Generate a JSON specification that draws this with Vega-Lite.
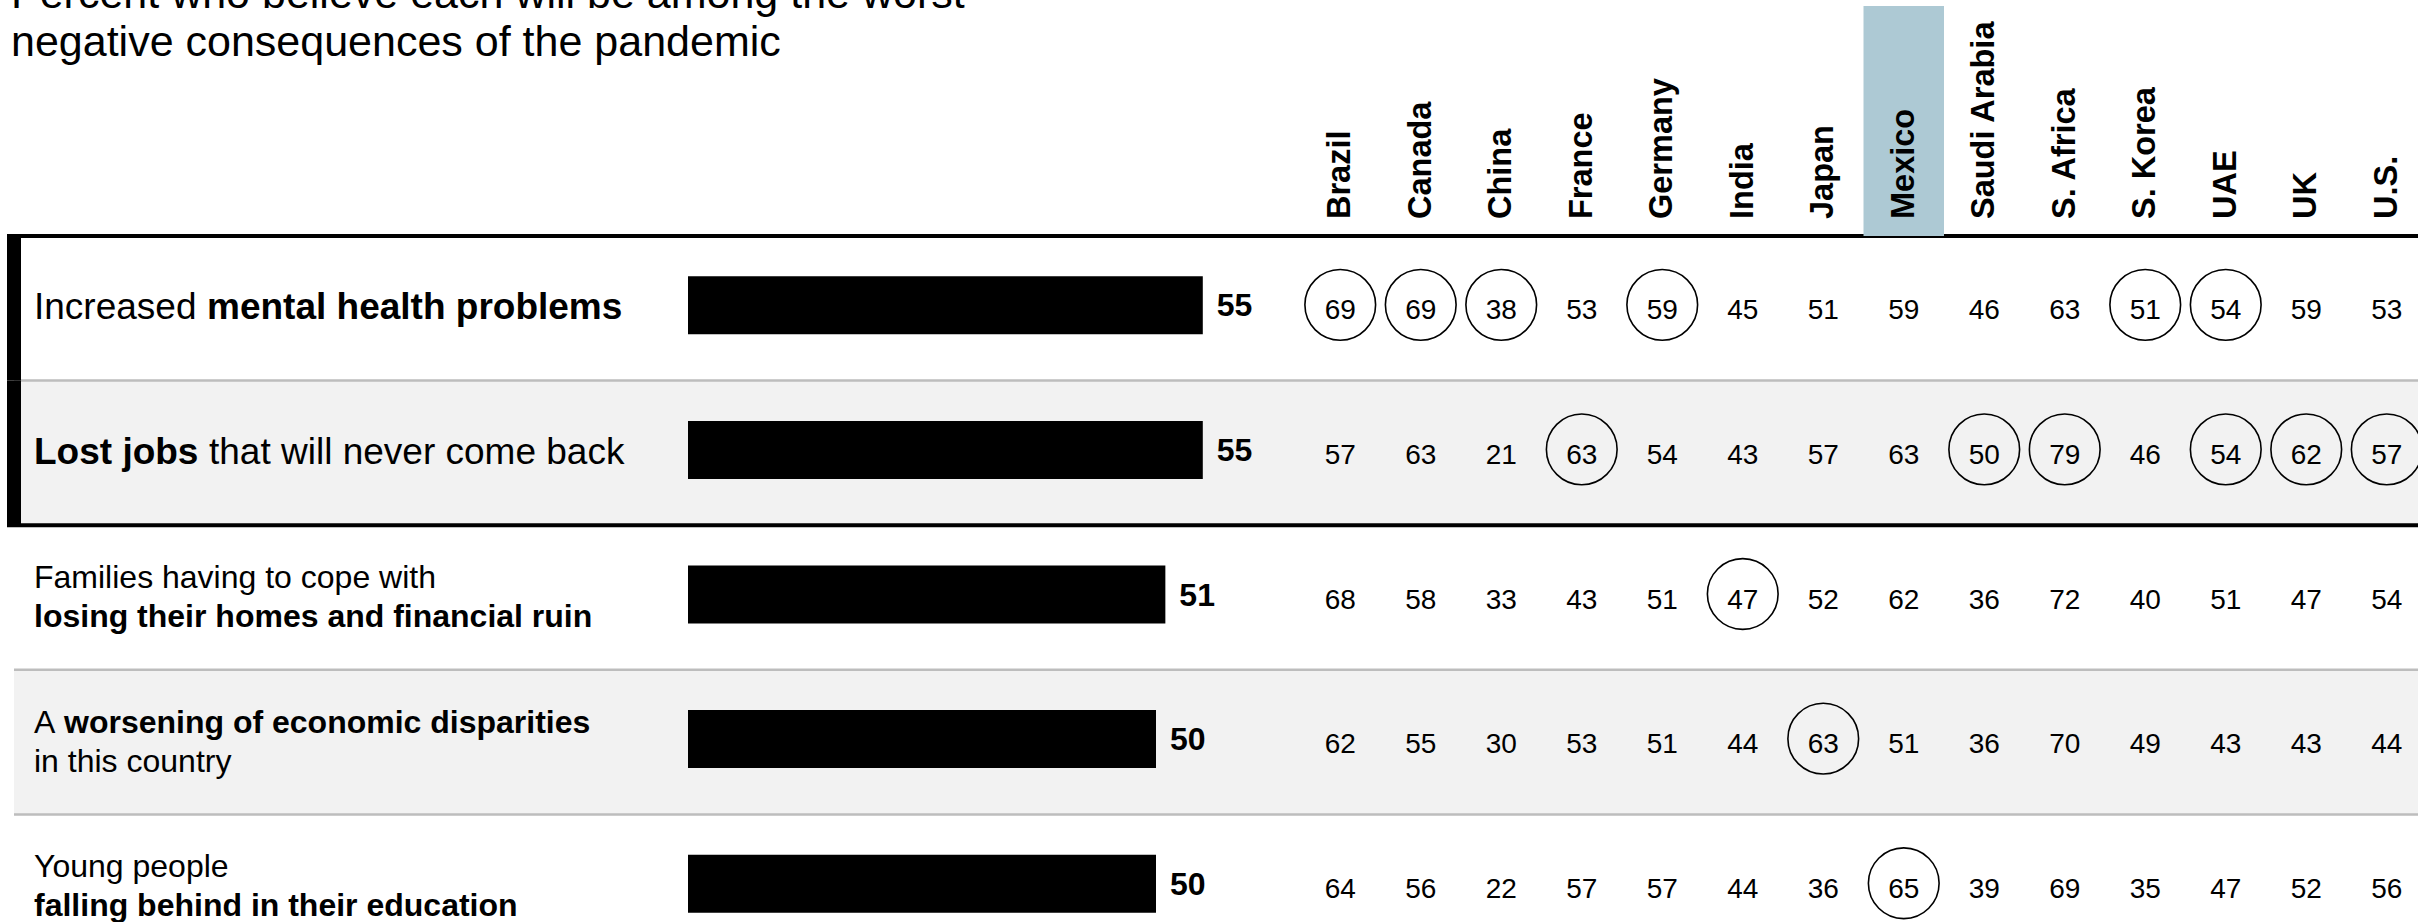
{
  "$schema": "https://vega.github.io/schema/vega-lite/v6.json",
  "width": 2418,
  "height": 922,
  "autosize": {"type": "none"},
  "padding": 0,
  "background": "white",
  "config": {
    "view": {"stroke": null},
    "font": "Liberation Sans",
    "text": {"font": "Liberation Sans", "color": "#000000"}
  },
  "datasets": {
    "topics": [
      {"topic": "mental", "rank": 1, "overall": 55, "featured": true},
      {"topic": "jobs", "rank": 2, "overall": 55, "featured": true},
      {"topic": "homes", "rank": 3, "overall": 51, "featured": false},
      {"topic": "disparities", "rank": 4, "overall": 50, "featured": false},
      {"topic": "education", "rank": 5, "overall": 50, "featured": false}
    ],
    "labels": [
      {"topic": "mental", "line": 0, "seq": 0, "text": "Increased", "emph": false},
      {"topic": "mental", "line": 0, "seq": 1, "text": "mental health problems", "emph": true},
      {"topic": "jobs", "line": 0, "seq": 0, "text": "Lost jobs", "emph": true},
      {"topic": "jobs", "line": 0, "seq": 1, "text": "that will never come back", "emph": false},
      {"topic": "homes", "line": 1, "seq": 0, "text": "Families having to cope with", "emph": false},
      {"topic": "homes", "line": 2, "seq": 0, "text": "losing their homes and financial ruin", "emph": true},
      {"topic": "disparities", "line": 1, "seq": 0, "text": "A", "emph": false},
      {"topic": "disparities", "line": 1, "seq": 1, "text": "worsening of economic disparities", "emph": true},
      {"topic": "disparities", "line": 2, "seq": 0, "text": "in this country", "emph": false},
      {"topic": "education", "line": 1, "seq": 0, "text": "Young people", "emph": false},
      {"topic": "education", "line": 2, "seq": 0, "text": "falling behind in their education", "emph": true}
    ],
    "cells": [
      {"topic": "mental", "country": "Brazil", "value": 69},
      {"topic": "mental", "country": "Canada", "value": 69},
      {"topic": "mental", "country": "China", "value": 38},
      {"topic": "mental", "country": "France", "value": 53},
      {"topic": "mental", "country": "Germany", "value": 59},
      {"topic": "mental", "country": "India", "value": 45},
      {"topic": "mental", "country": "Japan", "value": 51},
      {"topic": "mental", "country": "Mexico", "value": 59},
      {"topic": "mental", "country": "Saudi Arabia", "value": 46},
      {"topic": "mental", "country": "S. Africa", "value": 63},
      {"topic": "mental", "country": "S. Korea", "value": 51},
      {"topic": "mental", "country": "UAE", "value": 54},
      {"topic": "mental", "country": "UK", "value": 59},
      {"topic": "mental", "country": "U.S.", "value": 53},
      {"topic": "jobs", "country": "Brazil", "value": 57},
      {"topic": "jobs", "country": "Canada", "value": 63},
      {"topic": "jobs", "country": "China", "value": 21},
      {"topic": "jobs", "country": "France", "value": 63},
      {"topic": "jobs", "country": "Germany", "value": 54},
      {"topic": "jobs", "country": "India", "value": 43},
      {"topic": "jobs", "country": "Japan", "value": 57},
      {"topic": "jobs", "country": "Mexico", "value": 63},
      {"topic": "jobs", "country": "Saudi Arabia", "value": 50},
      {"topic": "jobs", "country": "S. Africa", "value": 79},
      {"topic": "jobs", "country": "S. Korea", "value": 46},
      {"topic": "jobs", "country": "UAE", "value": 54},
      {"topic": "jobs", "country": "UK", "value": 62},
      {"topic": "jobs", "country": "U.S.", "value": 57},
      {"topic": "homes", "country": "Brazil", "value": 68},
      {"topic": "homes", "country": "Canada", "value": 58},
      {"topic": "homes", "country": "China", "value": 33},
      {"topic": "homes", "country": "France", "value": 43},
      {"topic": "homes", "country": "Germany", "value": 51},
      {"topic": "homes", "country": "India", "value": 47},
      {"topic": "homes", "country": "Japan", "value": 52},
      {"topic": "homes", "country": "Mexico", "value": 62},
      {"topic": "homes", "country": "Saudi Arabia", "value": 36},
      {"topic": "homes", "country": "S. Africa", "value": 72},
      {"topic": "homes", "country": "S. Korea", "value": 40},
      {"topic": "homes", "country": "UAE", "value": 51},
      {"topic": "homes", "country": "UK", "value": 47},
      {"topic": "homes", "country": "U.S.", "value": 54},
      {"topic": "disparities", "country": "Brazil", "value": 62},
      {"topic": "disparities", "country": "Canada", "value": 55},
      {"topic": "disparities", "country": "China", "value": 30},
      {"topic": "disparities", "country": "France", "value": 53},
      {"topic": "disparities", "country": "Germany", "value": 51},
      {"topic": "disparities", "country": "India", "value": 44},
      {"topic": "disparities", "country": "Japan", "value": 63},
      {"topic": "disparities", "country": "Mexico", "value": 51},
      {"topic": "disparities", "country": "Saudi Arabia", "value": 36},
      {"topic": "disparities", "country": "S. Africa", "value": 70},
      {"topic": "disparities", "country": "S. Korea", "value": 49},
      {"topic": "disparities", "country": "UAE", "value": 43},
      {"topic": "disparities", "country": "UK", "value": 43},
      {"topic": "disparities", "country": "U.S.", "value": 44},
      {"topic": "education", "country": "Brazil", "value": 64},
      {"topic": "education", "country": "Canada", "value": 56},
      {"topic": "education", "country": "China", "value": 22},
      {"topic": "education", "country": "France", "value": 57},
      {"topic": "education", "country": "Germany", "value": 57},
      {"topic": "education", "country": "India", "value": 44},
      {"topic": "education", "country": "Japan", "value": 36},
      {"topic": "education", "country": "Mexico", "value": 65},
      {"topic": "education", "country": "Saudi Arabia", "value": 39},
      {"topic": "education", "country": "S. Africa", "value": 69},
      {"topic": "education", "country": "S. Korea", "value": 35},
      {"topic": "education", "country": "UAE", "value": 47},
      {"topic": "education", "country": "UK", "value": 52},
      {"topic": "education", "country": "U.S.", "value": 56}
    ]
  },
  "resolve": {"scale": {"x": "independent"}},
  "layer": [
    {
      "description": "shaded background for every other row",
      "data": {"name": "topics"},
      "transform": [{"filter": "datum.rank % 2 == 0"}],
      "mark": {"type": "rect", "color": "#f2f2f2"},
      "encoding": {
        "y": {"field": "topic", "type": "nominal", "scale": {"type": "band", "domain": ["mental", "jobs", "homes", "disparities", "education"], "range": [236, 959], "paddingInner": 0, "paddingOuter": 0}, "axis": null},
        "x": {"value": 14},
        "x2": {"value": "width"}
      }
    },
    {
      "description": "thin separators under each row",
      "data": {"name": "topics"},
      "mark": {"type": "rule", "color": "#bdbdbd", "strokeWidth": 2.5},
      "encoding": {
        "y": {"field": "topic", "type": "nominal", "bandPosition": 1, "scale": {"type": "band", "domain": ["mental", "jobs", "homes", "disparities", "education"], "range": [236, 959], "paddingInner": 0, "paddingOuter": 0}, "axis": null},
        "x": {"value": 14},
        "x2": {"value": "width"}
      }
    },
    {
      "description": "heavy rules framing the two leading concerns",
      "data": {"name": "topics"},
      "transform": [{"filter": "datum.rank == 1 || datum.rank == 3"}],
      "mark": {"type": "rule", "color": "#000000", "strokeWidth": 4},
      "encoding": {
        "y": {"field": "topic", "type": "nominal", "bandPosition": 0, "scale": {"type": "band", "domain": ["mental", "jobs", "homes", "disparities", "education"], "range": [236, 959], "paddingInner": 0, "paddingOuter": 0}, "axis": null},
        "x": {"value": 7},
        "x2": {"value": "width"}
      }
    },
    {
      "description": "left edge of the frame",
      "data": {"name": "topics"},
      "transform": [{"filter": "datum.featured"}],
      "mark": {"type": "rect", "color": "#000000"},
      "encoding": {
        "y": {"field": "topic", "type": "nominal", "scale": {"type": "band", "domain": ["mental", "jobs", "homes", "disparities", "education"], "range": [236, 959], "paddingInner": 0, "paddingOuter": 0}, "axis": null},
        "x": {"value": 7},
        "x2": {"value": 21}
      }
    },
    {
      "description": "Mexico column header highlight",
      "data": {"name": "cells"},
      "transform": [{"filter": "datum.topic == 'mental' && datum.country == 'Mexico'"}],
      "mark": {"type": "rect", "color": "#adc9d4"},
      "encoding": {
        "x": {"field": "country", "type": "nominal", "scale": {"type": "band", "domain": ["Brazil", "Canada", "China", "France", "Germany", "India", "Japan", "Mexico", "Saudi Arabia", "S. Africa", "S. Korea", "UAE", "UK", "U.S."], "range": [1300, 2427], "paddingInner": 0, "paddingOuter": 0}, "axis": null},
        "y": {"value": 6},
        "y2": {"value": 236}
      }
    },
    {
      "description": "rotated country names",
      "data": {"name": "cells"},
      "transform": [{"filter": "datum.topic == 'mental'"}],
      "mark": {"type": "text", "angle": 270, "align": "left", "baseline": "middle", "fontSize": 32.5, "fontWeight": "bold"},
      "encoding": {
        "x": {"field": "country", "type": "nominal", "scale": {"type": "point", "domain": ["Brazil", "Canada", "China", "France", "Germany", "India", "Japan", "Mexico", "Saudi Arabia", "S. Africa", "S. Korea", "UAE", "UK", "U.S."], "range": [1300, 2427], "padding": 0.5}, "axis": null},
        "y": {"value": 219},
        "text": {"field": "country"}
      }
    },
    {
      "description": "heading",
      "data": {"values": [{}]},
      "mark": {"type": "text", "text": ["Percent who believe each will be among the worst", "negative consequences of the pandemic"], "fontSize": 43, "lineHeight": 48, "align": "left", "baseline": "alphabetic"},
      "encoding": {"x": {"value": 11}, "y": {"value": 8}}
    },
    {
      "data": {"name": "labels"},
      "transform": [{"filter": "datum.line == 0 && datum.seq == 0 && !datum.emph"}],
      "mark": {"type": "text", "align": "left", "baseline": "middle", "fontSize": 37},
      "encoding": {
        "y": {"field": "topic", "type": "nominal", "scale": {"type": "band", "domain": ["mental", "jobs", "homes", "disparities", "education"], "range": [236, 959], "paddingInner": 0, "paddingOuter": 0}, "axis": null},
        "x": {"value": 34},
        "text": {"field": "text"}
      }
    },
    {
      "data": {"name": "labels"},
      "transform": [{"filter": "datum.line == 0 && datum.seq == 0 && datum.emph"}],
      "mark": {"type": "text", "align": "left", "baseline": "middle", "fontSize": 37, "fontWeight": "bold"},
      "encoding": {
        "y": {"field": "topic", "type": "nominal", "scale": {"type": "band", "domain": ["mental", "jobs", "homes", "disparities", "education"], "range": [236, 959], "paddingInner": 0, "paddingOuter": 0}, "axis": null},
        "x": {"value": 34},
        "text": {"field": "text"}
      }
    },
    {
      "data": {"name": "labels"},
      "transform": [{"filter": "datum.topic == 'mental' && datum.seq == 1"}],
      "mark": {"type": "text", "align": "left", "baseline": "middle", "fontSize": 37, "fontWeight": "bold"},
      "encoding": {
        "y": {"field": "topic", "type": "nominal", "scale": {"type": "band", "domain": ["mental", "jobs", "homes", "disparities", "education"], "range": [236, 959], "paddingInner": 0, "paddingOuter": 0}, "axis": null},
        "x": {"value": 207},
        "text": {"field": "text"}
      }
    },
    {
      "data": {"name": "labels"},
      "transform": [{"filter": "datum.topic == 'jobs' && datum.seq == 1"}],
      "mark": {"type": "text", "align": "left", "baseline": "middle", "fontSize": 37},
      "encoding": {
        "y": {"field": "topic", "type": "nominal", "scale": {"type": "band", "domain": ["mental", "jobs", "homes", "disparities", "education"], "range": [236, 959], "paddingInner": 0, "paddingOuter": 0}, "axis": null},
        "x": {"value": 209},
        "text": {"field": "text"}
      }
    },
    {
      "data": {"name": "labels"},
      "transform": [{"filter": "datum.line == 1 && datum.seq == 0"}],
      "mark": {"type": "text", "align": "left", "baseline": "middle", "fontSize": 32, "dy": -19.5},
      "encoding": {
        "y": {"field": "topic", "type": "nominal", "scale": {"type": "band", "domain": ["mental", "jobs", "homes", "disparities", "education"], "range": [236, 959], "paddingInner": 0, "paddingOuter": 0}, "axis": null},
        "x": {"value": 34},
        "text": {"field": "text"}
      }
    },
    {
      "data": {"name": "labels"},
      "transform": [{"filter": "datum.line == 1 && datum.seq == 1"}],
      "mark": {"type": "text", "align": "left", "baseline": "middle", "fontSize": 32, "fontWeight": "bold", "dy": -19.5},
      "encoding": {
        "y": {"field": "topic", "type": "nominal", "scale": {"type": "band", "domain": ["mental", "jobs", "homes", "disparities", "education"], "range": [236, 959], "paddingInner": 0, "paddingOuter": 0}, "axis": null},
        "x": {"value": 64},
        "text": {"field": "text"}
      }
    },
    {
      "data": {"name": "labels"},
      "transform": [{"filter": "datum.line == 2 && datum.emph"}],
      "mark": {"type": "text", "align": "left", "baseline": "middle", "fontSize": 32, "fontWeight": "bold", "dy": 19.5},
      "encoding": {
        "y": {"field": "topic", "type": "nominal", "scale": {"type": "band", "domain": ["mental", "jobs", "homes", "disparities", "education"], "range": [236, 959], "paddingInner": 0, "paddingOuter": 0}, "axis": null},
        "x": {"value": 34},
        "text": {"field": "text"}
      }
    },
    {
      "data": {"name": "labels"},
      "transform": [{"filter": "datum.line == 2 && !datum.emph"}],
      "mark": {"type": "text", "align": "left", "baseline": "middle", "fontSize": 32, "dy": 19.5},
      "encoding": {
        "y": {"field": "topic", "type": "nominal", "scale": {"type": "band", "domain": ["mental", "jobs", "homes", "disparities", "education"], "range": [236, 959], "paddingInner": 0, "paddingOuter": 0}, "axis": null},
        "x": {"value": 34},
        "text": {"field": "text"}
      }
    },
    {
      "description": "overall share across all countries",
      "data": {"name": "topics"},
      "mark": {"type": "bar", "color": "#000000", "size": 58, "yOffset": -3},
      "encoding": {
        "y": {"field": "topic", "type": "nominal", "scale": {"type": "band", "domain": ["mental", "jobs", "homes", "disparities", "education"], "range": [236, 959], "paddingInner": 0, "paddingOuter": 0}, "axis": null},
        "x": {"field": "overall", "type": "quantitative", "scale": {"domain": [0, 100], "range": [688, 1624], "nice": false, "zero": true}, "axis": null}
      }
    },
    {
      "data": {"name": "topics"},
      "mark": {"type": "text", "align": "left", "baseline": "middle", "fontSize": 32, "fontWeight": "bold", "dx": 14, "dy": -2},
      "encoding": {
        "y": {"field": "topic", "type": "nominal", "scale": {"type": "band", "domain": ["mental", "jobs", "homes", "disparities", "education"], "range": [236, 959], "paddingInner": 0, "paddingOuter": 0}, "axis": null},
        "x": {"field": "overall", "type": "quantitative", "scale": {"domain": [0, 100], "range": [688, 1624], "nice": false, "zero": true}, "axis": null},
        "text": {"field": "overall"}
      }
    },
    {
      "description": "ring around each country's top concern",
      "data": {"name": "cells"},
      "transform": [
        {"joinaggregate": [{"op": "max", "field": "value", "as": "top"}], "groupby": ["country"]},
        {"filter": "datum.value == datum.top"}
      ],
      "mark": {"type": "point", "shape": "circle", "filled": false, "size": 5000, "stroke": "#000000", "strokeWidth": 1.6, "opacity": 1},
      "encoding": {
        "y": {"field": "topic", "type": "nominal", "bandPosition": 0.476, "scale": {"type": "band", "domain": ["mental", "jobs", "homes", "disparities", "education"], "range": [236, 959], "paddingInner": 0, "paddingOuter": 0}, "axis": null},
        "x": {"field": "country", "type": "nominal", "scale": {"type": "point", "domain": ["Brazil", "Canada", "China", "France", "Germany", "India", "Japan", "Mexico", "Saudi Arabia", "S. Africa", "S. Korea", "UAE", "UK", "U.S."], "range": [1300, 2427], "padding": 0.5}, "axis": null}
      }
    },
    {
      "data": {"name": "cells"},
      "mark": {"type": "text", "align": "center", "baseline": "middle", "fontSize": 28, "dy": 3},
      "encoding": {
        "y": {"field": "topic", "type": "nominal", "scale": {"type": "band", "domain": ["mental", "jobs", "homes", "disparities", "education"], "range": [236, 959], "paddingInner": 0, "paddingOuter": 0}, "axis": null},
        "x": {"field": "country", "type": "nominal", "scale": {"type": "point", "domain": ["Brazil", "Canada", "China", "France", "Germany", "India", "Japan", "Mexico", "Saudi Arabia", "S. Africa", "S. Korea", "UAE", "UK", "U.S."], "range": [1300, 2427], "padding": 0.5}, "axis": null},
        "text": {"field": "value"}
      }
    }
  ]
}
